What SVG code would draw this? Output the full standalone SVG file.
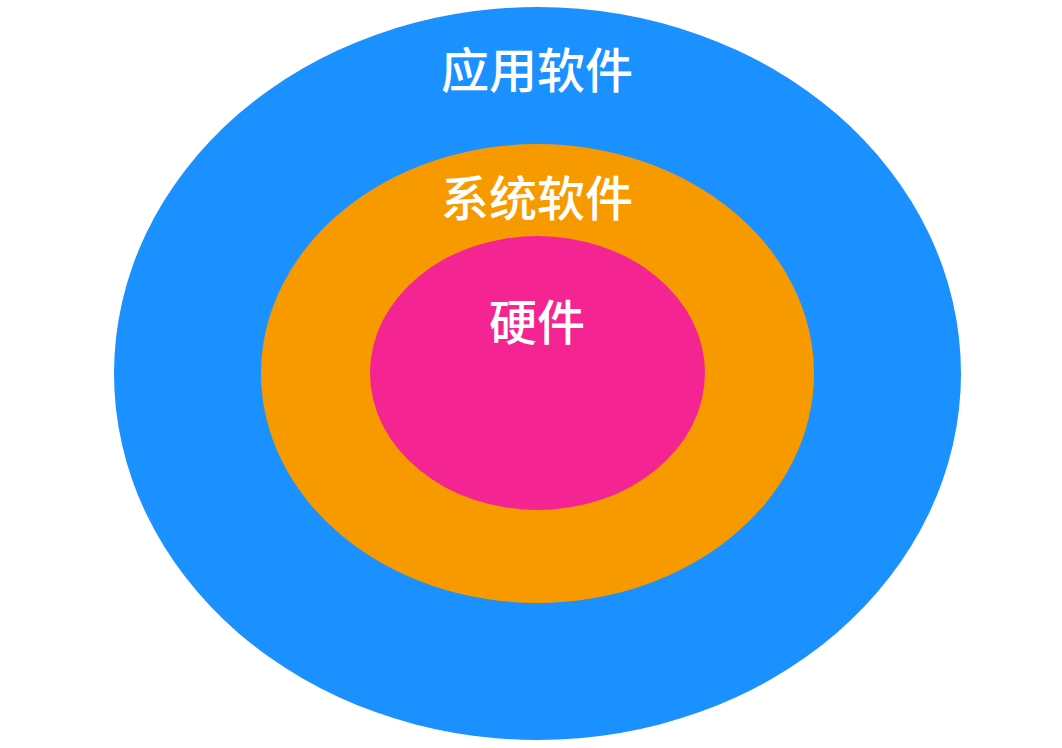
<svg xmlns="http://www.w3.org/2000/svg" width="1062" height="748" viewBox="0 0 1062 748">
<style>
.lbl{font-family:"Noto Sans CJK SC","Noto Sans",sans-serif;font-size:48px;font-weight:500;fill:#ffffff;text-anchor:middle;dominant-baseline:central}
</style>
<rect width="1062" height="748" fill="#ffffff"/>
<g id="app">
<ellipse cx="537.5" cy="373.5" rx="423.5" ry="366.5" fill="#1B90FF"/>
<text class="lbl" x="537" y="67">应用软件</text>
</g>
<g id="sys">
<ellipse cx="537.5" cy="373.5" rx="276.5" ry="229.5" fill="#F79A00"/>
<text class="lbl" x="537" y="194.5">系统软件</text>
</g>
<g id="hw">
<ellipse cx="537.5" cy="373" rx="167.5" ry="137" fill="#F42492"/>
<text class="lbl" x="537" y="318.5">硬件</text>
</g>
<g id="connectors"/>
</svg>
